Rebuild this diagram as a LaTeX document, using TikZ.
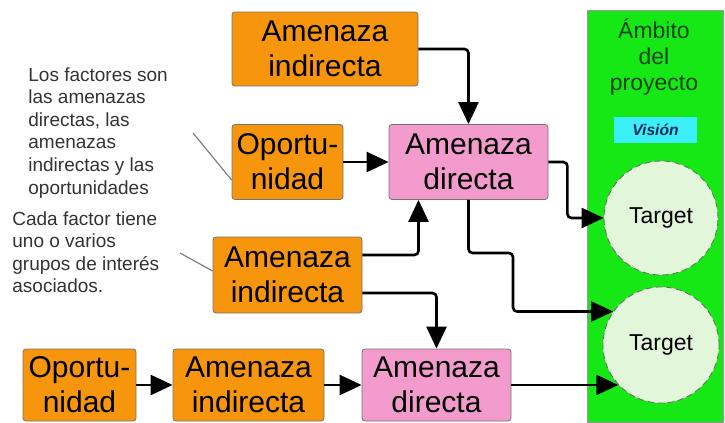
\documentclass[tikz,border=0pt]{standalone}
\usepackage{fontspec}
\setmainfont{Liberation Sans}
\usetikzlibrary{arrows.meta}
\definecolor{naranja}{HTML}{F7950C}
\definecolor{rosa}{HTML}{F49BCD}
\definecolor{verde}{HTML}{16E816}
\definecolor{celeste}{HTML}{3CEEF6}
\definecolor{verdeclaro}{HTML}{E2F6DA}
\definecolor{verdeoscuro}{HTML}{0E430E}
\definecolor{azuloscuro}{HTML}{0C2A5C}
\tikzset{
  factor/.style={draw=black!55, fill=naranja, rounded corners=1.5pt, align=center, inner sep=0pt, font=\fontsize{15}{17.5}\selectfont},
  directa/.style={factor, fill=rosa},
  flecha/.style={line width=1.3pt, rounded corners=2pt, -{Triangle[length=11pt,width=10pt]}},
  nota/.style={align=left, inner sep=0pt, anchor=north west, text=black!80, font=\fontsize{9.5}{11.3}\selectfont},
  guia/.style={draw=black!50, line width=0.6pt},
  target/.style={circle, draw=black!60, densely dashed, fill=verdeclaro, minimum size=57pt, inner sep=0pt, font=\fontsize{11.5}{13}\selectfont}
}
\begin{document}
\begin{tikzpicture}[x=0.5pt,y=-0.5pt]
\useasboundingbox (0,0) rectangle (725,423);
\draw[fill=verde, draw=black!40] (587,10) rectangle (723,422);
\node[align=center, text=verdeoscuro, font=\fontsize{11.5}{13.2}\selectfont] (ambito) at (654,57) {Ámbito\\del\\proyecto};
\node[fill=celeste, minimum width=41.5pt, minimum height=13pt, inner sep=0pt, text=azuloscuro, font=\fontsize{7.8}{9}\selectfont\bfseries\itshape] (vision) at (655.5,130) {Visión};
\node[target] (t1) at (661,218) {Target};
\node[target, minimum size=58pt] (t2) at (661,345) {Target};

\node[factor, minimum width=93pt, minimum height=37pt] (ai1) at (325,49) {Amenaza\\indirecta};
\node[factor, minimum width=55.5pt, minimum height=37.5pt] (op1) at (287.5,162) {Oportu-\\nidad};
\node[directa, minimum width=79.5pt, minimum height=37.5pt] (ad1) at (468.5,162) {Amenaza\\directa};
\node[factor, minimum width=74.5pt, minimum height=38pt] (ai2) at (287.5,275) {Amenaza\\indirecta};
\node[factor, minimum width=56.5pt, minimum height=36pt] (op2) at (79.5,385) {Oportu-\\nidad};
\node[factor, minimum width=75.5pt, minimum height=36pt] (ai3) at (248.5,385) {Amenaza\\indirecta};
\node[directa, minimum width=74.5pt, minimum height=36pt] (ad2) at (436.5,385) {Amenaza\\directa};

\node[nota] (nota1) at (28,67) {Los factores son\\las amenazas\\directas, las\\amenazas\\indirectas y las\\oportunidades};
\node[nota] (nota2) at (12,211) {Cada factor tiene\\uno o varios\\grupos de interés\\asociados.};
\coordinate (n1) at (193,133);
\coordinate (n2) at (180,253);
\draw[guia] (n1) -- ([yshift=-9pt]op1.west);
\draw[guia] (n2) -- ([yshift=2pt]ai2.west);

\draw[flecha] (ai1.east) -| (ad1.north);
\draw[flecha] (op1) -- (ad1);
\draw[flecha] ([yshift=10pt]ai2.east) -| ([xshift=-25pt]ad1.south);
\draw[flecha] ([yshift=-9pt]ai2.east) -| (ad2.north);
\draw[flecha] (op2) -- (ai3);
\draw[flecha] (ai3) -- (ad2);
\draw[flecha] (ad1.east) -- ++(19,0) |- (t1.west);
\coordinate (k1) at (513,253);
\draw[flecha] (ad1.south) |- (k1) |- (t2.145);
\draw[flecha] (ad2.east) -- (ad2.east -| t2.223);
\end{tikzpicture}
\end{document}
